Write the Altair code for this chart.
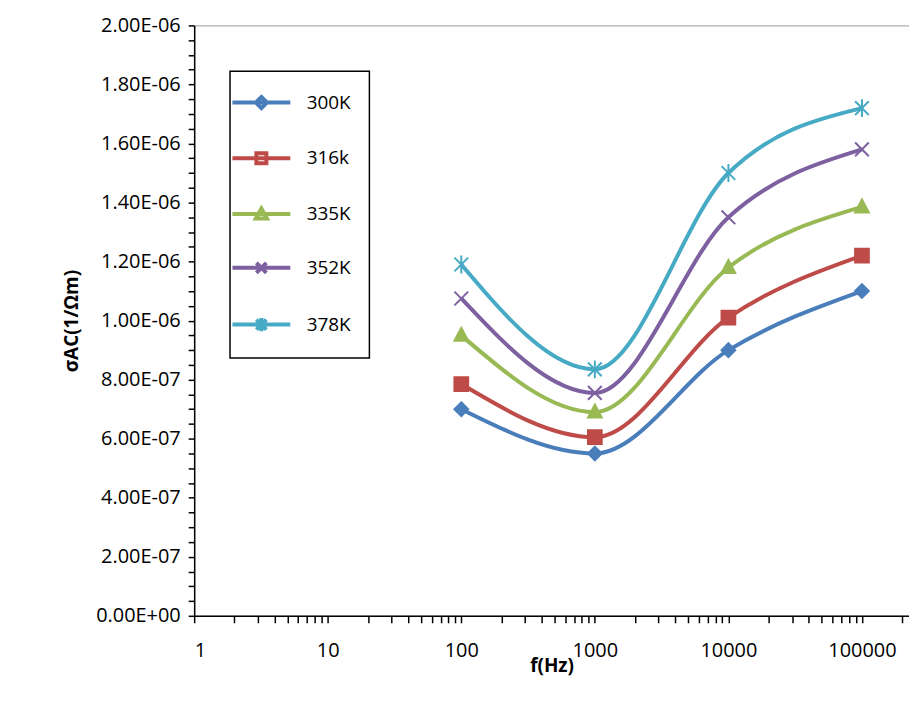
import altair as alt
import pandas as pd

freqs = [100, 1000, 10000, 100000]
series = ["300K", "316k", "335K", "352K", "378K"]
colors = ["#4a7ebb", "#be4b48", "#98b954", "#7d60a0", "#46aac5"]
vals = {
    "300K": [7.0e-7, 5.5e-7, 9.0e-7, 1.10e-6],
    "316k": [7.85e-7, 6.05e-7, 1.01e-6, 1.22e-6],
    "335K": [9.5e-7, 6.9e-7, 1.18e-6, 1.385e-6],
    "352K": [1.075e-6, 7.55e-7, 1.35e-6, 1.58e-6],
    "378K": [1.19e-6, 8.35e-7, 1.50e-6, 1.72e-6],
}
x_ticks = [m * 10 ** k for k in range(6) for m in range(1, 10) if m * 10 ** k <= 200000]
y_ticks = [i * 5e-8 for i in range(41)]

rows = [{"f": f, "s": s, "lg": s, "v": v} for s in series for f, v in zip(freqs, vals[s])]
df = pd.DataFrame(rows)

markers = [
    "M0,-1L1,0L0,1L-1,0Z",
    "M-1,-1H1V1H-1Z",
    "M0,-1.1L1,0.8H-1Z",
    "M-1,-1L1,1M-1,1L1,-1",
    "M-1,-1L1,1M-1,1L1,-1M0,-1.3V1.3",
]
leg_markers = [
    "M0,-0.5L0.5,0L0,0.5L-0.5,0Z",
    "M-0.45,-0.45H0.45V0.45H-0.45Z",
    "M0,-0.5L0.5,0.4H-0.5Z",
    "M-0.45,-0.45L0.45,0.45M-0.45,0.45L0.45,-0.45",
    "M-0.45,-0.45L0.45,0.45M-0.45,0.45L0.45,-0.45M0,-0.6V0.6",
]
leg_shapes = ["M-2.6,0H2.6" + p for p in leg_markers]

FONT = "Open Sans"
common = dict(labelFontSize=20, titleFontSize=19, titleFontWeight="bold", labelFont=FONT, titleFont=FONT,
              labelColor="black", titleColor="black", domainColor="black", tickColor="black",
              domainWidth=1.5, tickWidth=1.5, grid=False)
x = alt.X("f:Q", scale=alt.Scale(type="log", domain=[1, 225000], nice=False),
          axis=alt.Axis(values=x_ticks, title="f(Hz)",
                        labelExpr="indexof(['1','10','100','1000','10000','100000'], datum.label)>=0 ? datum.label : ''",
                        format="d", tickSize=7, labelPadding=18, titlePadding=-4, **common))
y = alt.Y("v:Q", scale=alt.Scale(domain=[0, 2e-6], nice=False),
          axis=alt.Axis(values=y_ticks, title="σAC(1/Ωm)",
                        labelExpr="round(datum.value*5e6)!=datum.value*5e6 ? '' : datum.value==0 ? '0.00E+00' : replace(format(datum.value,'.2e'),'e-','E-0')",
                        tickSize=6, labelPadding=8, titlePadding=14, **common))
col = alt.Color("s:N", scale=alt.Scale(domain=series, range=colors), legend=None)
base = alt.Chart(df).encode(x=x, y=y)

lines = base.mark_line(interpolate="monotone", strokeWidth=4).encode(color=col, detail="s:N")
points = base.mark_point(filled=False, strokeWidth=2, size=190, opacity=1).encode(
    color=col,
    fill=alt.Fill("s:N", scale=alt.Scale(domain=series, range=colors[:3] + ["transparent", "transparent"]), legend=None),
    shape=alt.Shape("s:N", scale=alt.Scale(domain=series, range=markers), legend=None))
leg = base.mark_point(opacity=0, size=1).encode(
    color=alt.Color("lg:N", scale=alt.Scale(domain=series, range=colors), legend=alt.Legend(title=None)),
    shape=alt.Shape("lg:N", scale=alt.Scale(domain=series, range=leg_shapes), legend=alt.Legend(title=None)))

chart = alt.layer(lines, points, leg).resolve_scale(
    shape="independent", color="independent", fill="independent"
).properties(
    width=718, height=593, padding={"left": 55, "top": 6, "right": 0, "bottom": 5}
).configure_view(stroke="#999").configure_legend(
    orient="none", legendX=36, legendY=46, strokeColor="black", strokeWidth=1.5, padding=18, rowPadding=28,
    symbolSize=500, symbolStrokeWidth=4, symbolOpacity=1, labelFont=FONT, labelOffset=32,
    labelFontSize=19, labelColor="black", symbolLimit=0
)

chart.save("out.html", embed_options={"renderer": "svg", "actions": False})
